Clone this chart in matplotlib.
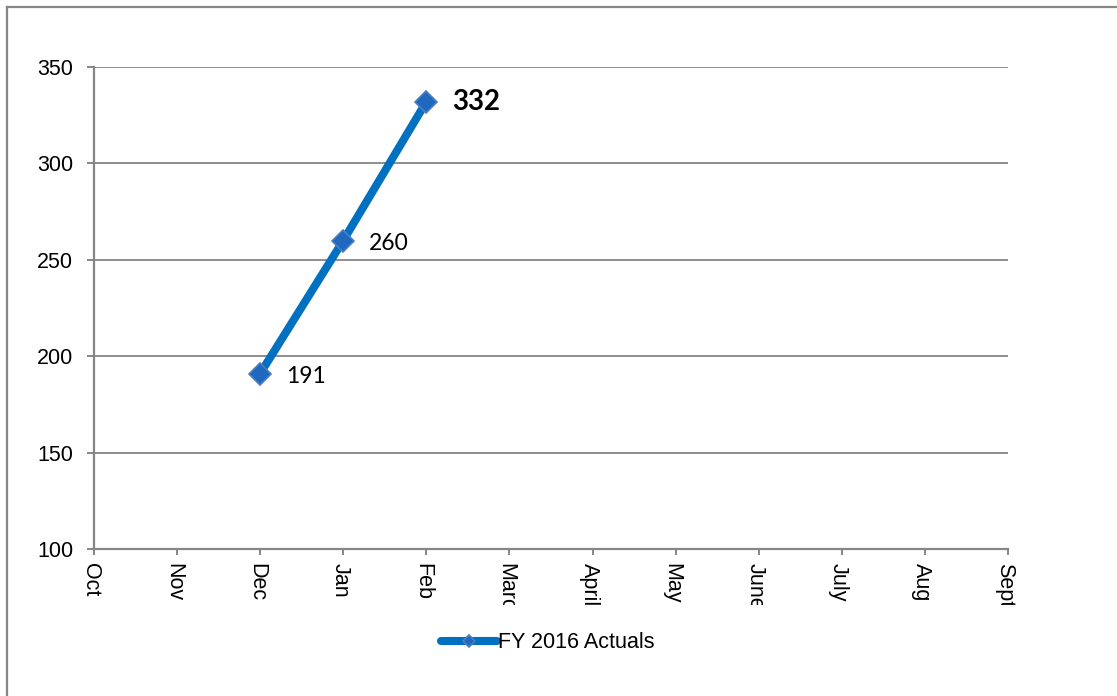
import matplotlib
matplotlib.use("Agg")
import matplotlib.pyplot as plt
from matplotlib.lines import Line2D
from matplotlib.patches import Rectangle
import matplotlib.transforms as mtransforms

months = ["Oct", "Nov", "Dec", "Jan", "Feb", "March", "April", "May", "June", "July", "Aug", "Sept"]
series_months = ["Dec", "Jan", "Feb"]
series_values = [191, 260, 332]
series_name = "FY 2016 Actuals"
y_ticks = [100, 150, 200, 250, 300, 350]

W, H = 1117, 696
fig = plt.figure(figsize=(W / 100, H / 100), dpi=100)
ax = fig.add_axes([94 / W, 1 - 549 / H, (1008 - 94) / W, (549 - 67) / H])

grey = "#868686"
xs = [months.index(m) for m in series_months]
ax.plot(xs, series_values, color="#0070C0", lw=5.8, solid_capstyle="round",
        marker="D", markersize=11, markerfacecolor="#1F68BE", markeredgecolor="#4A7EC4",
        markeredgewidth=1.2, label=series_name, zorder=3)

for i, (x, v) in enumerate(zip(xs, series_values)):
    last = i == len(series_values) - 1
    ax.annotate(str(v), (x, v), xytext=(26, -3 if not last else 0), textcoords="offset pixels",
                ha="left", va="center", fontsize=20 if last else 16.5,
                fontweight="bold" if last else "normal", family="Lato", color="black")

ax.set_xlim(0, len(months) - 1)
ax.set_ylim(y_ticks[0], y_ticks[-1])
ax.set_yticks(y_ticks)
ax.set_xticks(range(len(months)))
ax.set_xticklabels(months, rotation=270, ha="center", va="top",
                   family="Liberation Sans", fontsize=15.5)
ax.set_yticklabels([str(t) for t in y_ticks], family="Liberation Sans", fontsize=15.5)
ax.yaxis.grid(True, color=grey, lw=1.3)
ax.set_axisbelow(True)
for s in ["top", "right"]:
    ax.spines[s].set_visible(False)
for s in ["left", "bottom"]:
    ax.spines[s].set_color(grey)
    ax.spines[s].set_linewidth(1.6)
ax.tick_params(axis="x", length=4, width=1.4, color=grey, pad=6)
ax.tick_params(axis="y", length=5, width=1.4, color=grey, pad=10)

leg = fig.legend(loc="center", bbox_to_anchor=(0.49, 1 - 643 / H), frameon=False,
                 prop={"family": "Liberation Sans", "size": 15.5},
                 handlelength=2.6, handletextpad=0.05, markerscale=0.55)

# outer chart border (left and top)
fig.add_artist(Line2D([7 / W, 7 / W], [0, 1 - 6.5 / H], color=grey, lw=1.6))
fig.add_artist(Line2D([7 / W, 1], [1 - 6.5 / H, 1 - 6.5 / H], color=grey, lw=1.6))

fig.canvas.draw()
clip = Rectangle((0, 1 - 605 / H), 1, 605 / H, transform=fig.transFigure)
shift = mtransforms.ScaledTranslation(-3.5 / 100, 0, fig.dpi_scale_trans)
for lab in ax.get_xticklabels():
    lab.set_transform(lab.get_transform() + shift)
    lab.set_clip_path(clip)
    lab.set_clip_on(True)

fig.savefig("out.png", dpi=100)
